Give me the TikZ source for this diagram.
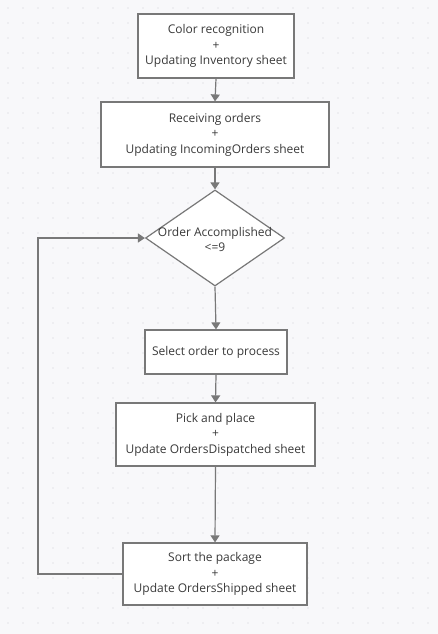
\documentclass[tikz,border=0pt]{standalone}
\usepackage{fontspec}
\setmainfont{Open Sans}
\usetikzlibrary{arrows.meta,shapes.geometric}
\definecolor{bg}{HTML}{F8F8FA}
\definecolor{griddot}{HTML}{CFCFD6}
\definecolor{edge}{HTML}{787878}
\definecolor{ink}{HTML}{3A3A3A}
\tikzset{
  stepbox/.style={draw=edge, line width=1.2pt, fill=white, inner sep=0pt, align=center,
    text=ink, font=\fontsize{12}{15.5}\selectfont},
  decision/.style={draw=edge, line width=1.2pt, fill=white, diamond, inner sep=0pt},
  caption/.style={text=ink, align=center, font=\fontsize{12}{15.5}\selectfont, inner sep=0pt},
  flow/.style={draw=edge, line width=1.2pt, -{Triangle[length=7pt,width=9pt]}},
}
\begin{document}
\begin{tikzpicture}[x=1pt,y=-1pt]
  % canvas with dotted grid
  \fill[bg] (0,0) rectangle (438,634);
  \useasboundingbox (0,0) rectangle (438,634);
  \foreach \gx in {8,23,...,438} {
    \foreach \gy in {8,23,...,634} {
      \fill[griddot] (\gx,\gy) circle (0.7pt);
    }
  }
  % process steps
  \node[stepbox, minimum width=156pt, minimum height=64pt] (color) at (216,46)
    {\raisebox{-1pt}{\parbox{150pt}{\centering Color recognition\\+\\Updating Inventory sheet}}};
  \node[stepbox, minimum width=228pt, minimum height=65pt] (orders) at (215,134.5)
    {\raisebox{-1pt}{\parbox{220pt}{\centering Receiving orders\\+\\Updating IncomingOrders sheet}}};
  \node[decision, minimum width=139pt, minimum height=96pt] (check) at (215,238) {};
  \node[caption] (checktext) at (215,239.5) {Order Accomplished\\<=9};
  \node[stepbox, minimum width=142pt, minimum height=44pt] (select) at (216,352)
    {Select order to process};
  \node[stepbox, minimum width=199pt, minimum height=63pt] (pick) at (215.5,434.5)
    {\raisebox{-1pt}{\parbox{195pt}{\centering Pick and place\\+\\Update OrdersDispatched sheet}}};
  \node[stepbox, minimum width=184pt, minimum height=62pt] (sort) at (215,574)
    {\raisebox{-1pt}{\parbox{180pt}{\centering Sort the package\\+\\Update OrdersShipped sheet}}};
  % connectors
  \draw[flow] (color.south) -- (orders.north);
  \draw[flow] (orders.south) -- (check.north);
  \draw[flow] (check.south) -- (select.north);
  \draw[flow] (select.south) -- (pick.north);
  \draw[flow] (pick.south) -- (sort.north);
  \coordinate (loopbottom) at (38,574);
  \coordinate (looptop) at (38,238);
  \draw[flow] (sort.west) -- (loopbottom) -- (looptop) -- (check.west);
\end{tikzpicture}
\end{document}
